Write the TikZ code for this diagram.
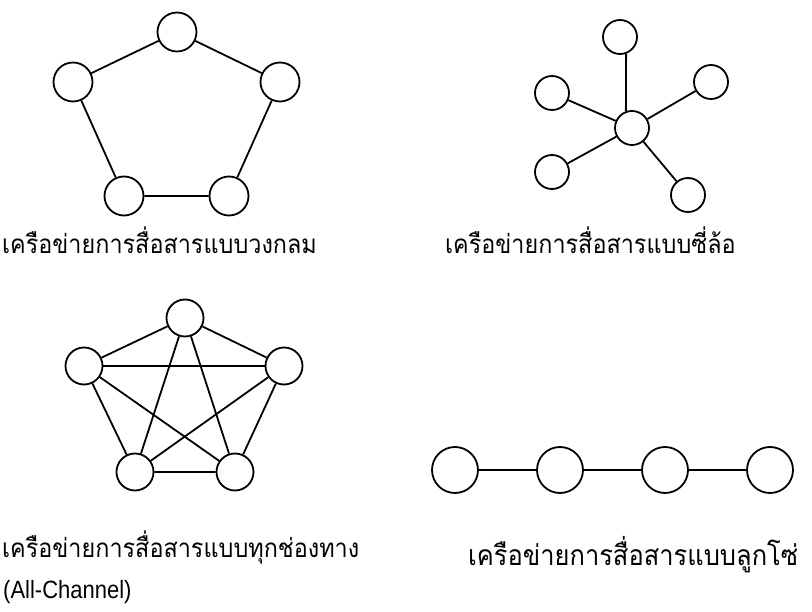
\documentclass[tikz,border=0pt]{standalone}
\usepackage{fontspec}
\setmainfont{Liberation Sans}[FakeStretch=0.88]
\newfontfamily\thaifont[Script=Thai,FakeStretch=0.9]{Loma}
\begin{document}
\begin{tikzpicture}[x=1pt,y=-1pt,
  nd/.style={circle,draw,line width=1.8pt,minimum size=#1,inner sep=0pt},
  ln/.style={line width=1.8pt},
  lbl/.style={anchor=west,inner sep=0pt,font=\thaifont\fontsize{26}{30}\selectfont},
  lat/.style={anchor=west,inner sep=0pt,font=\fontsize{25}{28}\selectfont}]
\useasboundingbox (0,0) rectangle (812,612);
% circle network
\node[nd=39] (at) at (177,32) {};
\node[nd=39] (al) at (73,82) {};
\node[nd=39] (ar) at (280,82) {};
\node[nd=39] (abl) at (124,196) {};
\node[nd=39] (abr) at (229,196) {};
\draw[ln] (at) -- (ar) -- (abr) -- (abl) -- (al) -- (at);
% wheel network
\node[nd=34] (bt) at (620,37) {};
\node[nd=34] (bul) at (552,93) {};
\node[nd=34] (bur) at (711,82) {};
\node[nd=34] (bc) at (632,128) {};
\node[nd=34] (bll) at (552,172) {};
\node[nd=34] (blr) at (688,195) {};
\draw[ln] (bt.-70) -- (bc.110);
\draw[ln] (bc) -- (bul);
\draw[ln] (bc) -- (bur);
\draw[ln] (bc) -- (bll);
\draw[ln] (bc) -- (blr);
% all-channel network
\node[nd=37] (ct) at (185,318) {};
\node[nd=37] (cl) at (84,366) {};
\node[nd=37] (cr) at (284,366) {};
\node[nd=37] (cbl) at (135,472) {};
\node[nd=37] (cbr) at (235,472) {};
\draw[ln] (ct) -- (cr) -- (cbr) -- (cbl) -- (cl) -- (ct);
\draw[ln] (ct) -- (cbl);
\draw[ln] (ct) -- (cbr);
\draw[ln] (cl) -- (cr);
\draw[ln] (cl) -- (cbr);
\draw[ln] (cr) -- (cbl);
% chain network
\node[nd=46] (d1) at (455,470) {};
\node[nd=46] (d2) at (560,470) {};
\node[nd=46] (d3) at (665,470) {};
\node[nd=46] (d4) at (770,470) {};
\draw[ln] (d1) -- (d2) -- (d3) -- (d4);
% labels
\node[lbl] (la) at (2,240) {เครือข่ายการสื่อสารแบบวงกลม};
\node[lbl] (lb) at (445,240) {เครือข่ายการสื่อสารแบบซี่ล้อ};
\node[lbl] (lc) at (2,548) {เครือข่ายการสื่อสารแบบทุกช่องทาง};
\node[lat] (lc2) at (3,592) {(All-Channel)};
\node[lbl,font=\thaifont\fontsize{28.3}{32}\selectfont] (ld) at (468,555) {เครือข่ายการสื่อสารแบบลูกโซ่};
\end{tikzpicture}
\end{document}
